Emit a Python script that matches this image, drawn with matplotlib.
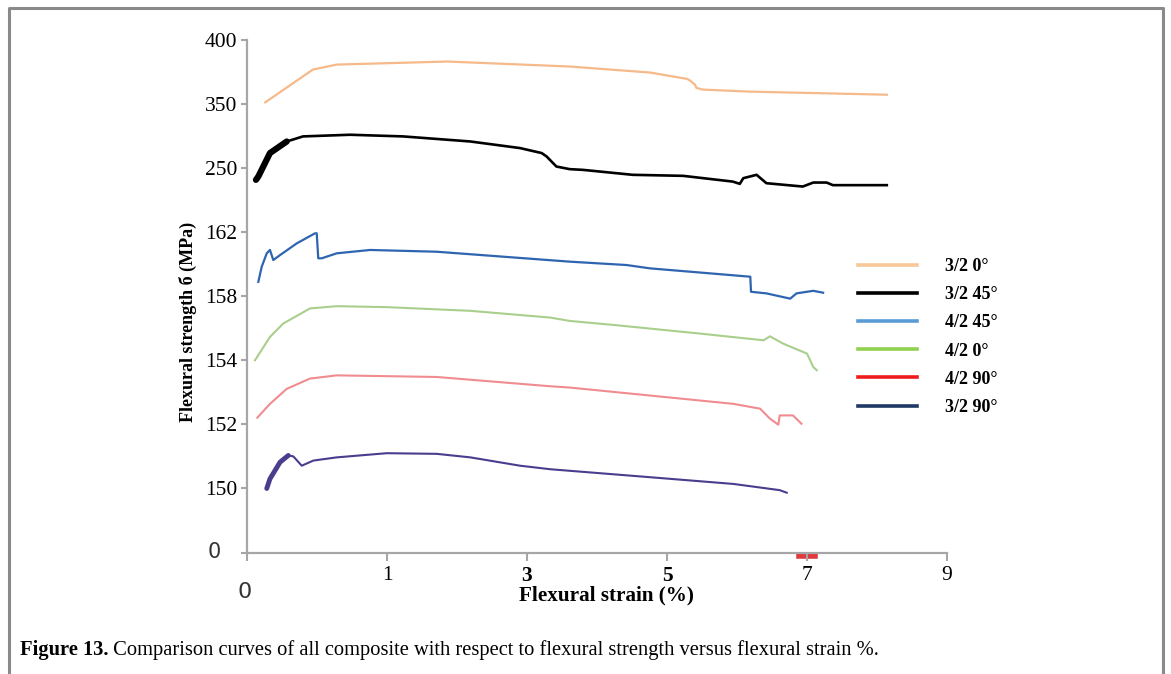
import numpy as np
import matplotlib
matplotlib.use('Agg')
import matplotlib.pyplot as plt
from matplotlib.lines import Line2D
from matplotlib.transforms import offset_copy

# axis tick values (the original axes are not linear, ticks are evenly spaced)
x_ticks = [0, 1, 3, 5, 7, 9]
y_ticks = [0, 150, 152, 154, 158, 162, 250, 350, 400]

# curves: strain (%) / flexural strength (MPa)
s32_0 = [0.13, 0.28, 0.47, 0.64, 1.86, 3.61, 4.76, 5.29, 5.33, 5.40, 5.42, 5.51, 6.19, 8.14]
v32_0 = [351.3, 362.6, 376.9, 380.8, 383.2, 379.3, 374.6, 369.6, 368.3, 365.2, 362.6, 361.3, 359.7, 357.3]

s32_45 = [0.064, 0.081, 0.164, 0.284, 0.40, 0.736, 1.23, 2.19, 2.90, 3.21, 3.28, 3.42, 3.61, 3.80,
          4.51, 5.23, 5.94, 6.04, 6.09, 6.28, 6.42, 6.94, 7.09, 7.28, 7.37, 8.14]
v32_45 = [233.9, 238.5, 273.5, 291.6, 299.5, 302.1, 299.5, 291.6, 281.3, 273.5, 268.2, 252.5, 248.6, 247.6,
          240.8, 239.4, 231.5, 228.4, 236.2, 240.8, 229.3, 224.7, 230.2, 230.2, 226.6, 226.6]

s42_45 = [0.081, 0.105, 0.141, 0.164, 0.188, 0.236, 0.355, 0.486, 0.498, 0.509, 0.534, 0.641, 0.879,
          1.71, 2.66, 3.61, 4.42, 4.76, 6.19, 6.20, 6.42, 6.76, 6.85, 7.09, 7.23]
v42_45 = [158.9, 159.84, 160.68, 160.89, 160.26, 160.57, 161.30, 161.93, 161.93, 160.37, 160.37, 160.68, 160.89,
          160.78, 160.47, 160.16, 159.95, 159.74, 159.22, 158.28, 158.18, 157.85, 158.18, 158.34, 158.22]

s42_0 = [0.057, 0.164, 0.259, 0.343, 0.45, 0.641, 0.998, 2.19, 3.33, 3.61, 4.28, 5.47, 6.38, 6.47,
         6.66, 7.00, 7.09, 7.14]
v42_0 = [154.0, 155.46, 156.3, 156.71, 157.24, 157.38, 157.32, 157.09, 156.67, 156.46, 156.19, 155.67, 155.25, 155.50,
         155.04, 154.42, 153.79, 153.69]

s42_90 = [0.074, 0.164, 0.284, 0.45, 0.641, 1.71, 3.33, 3.61, 4.76, 5.95, 6.33, 6.47, 6.59, 6.61, 6.80, 6.92]
v42_90 = [152.21, 152.64, 153.11, 153.43, 153.53, 153.48, 153.19, 153.15, 152.90, 152.64, 152.49, 152.18, 151.99,
          152.28, 152.28, 152.02]

s32_90 = [0.141, 0.164, 0.236, 0.295, 0.331, 0.391, 0.474, 0.641, 0.998, 1.71, 2.19, 2.90, 3.33, 4.76,
          5.95, 6.61, 6.71]
v32_90 = [149.9, 150.30, 150.82, 151.03, 151.0, 150.71, 150.87, 150.97, 151.10, 151.08, 150.97, 150.71, 150.6,
          150.35, 150.14, 146.0, 140.0]

labels = ['3/2 0°', '3/2 45°', '4/2 45°', '4/2 0°', '4/2 90°', '3/2 90°']
curve_colors = ['#f5b98a', '#000000', '#2f65b0', '#a9cf8c', '#f08c8f', '#4b3c8e']
legend_colors = ['#f8c898', '#000000', '#5b9bd5', '#92d050', '#ee1c1c', '#1f3864']


def x_fwd(v):
    return np.interp(v, x_ticks, np.arange(len(x_ticks)))


def x_inv(p):
    return np.interp(p, np.arange(len(x_ticks)), x_ticks)


def y_fwd(v):
    return np.interp(v, y_ticks, np.arange(len(y_ticks)))


def y_inv(p):
    return np.interp(p, np.arange(len(y_ticks)), y_ticks)


W, H = 1171, 674
fig = plt.figure(figsize=(W / 100, H / 100), dpi=100)
ax = fig.add_axes([247 / W, (H - 552.5) / H, 700 / W, 512.5 / H])
ax.set_xscale('function', functions=(x_fwd, x_inv))
ax.set_yscale('function', functions=(y_fwd, y_inv))

serif = 'Liberation Serif'
curves = [(s32_0, v32_0), (s32_45, v32_45), (s42_45, v42_45),
          (s42_0, v42_0), (s42_90, v42_90), (s32_90, v32_90)]
widths = [1.6, 1.9, 1.6, 1.5, 1.5, 1.5]
for (s, v), c, w in zip(curves, curve_colors, widths):
    ax.plot(s, v, color=c, lw=w, solid_joinstyle='round')
# thick starts of the black and purple curves
ax.plot(s32_45[:4], v32_45[:4], color=curve_colors[1], lw=4.5, solid_capstyle='round')
ax.plot(s32_90[:4], v32_90[:4], color=curve_colors[5], lw=3.5, solid_capstyle='round')
# small red mark under the axis near 7
ax.plot([6.88, 7.12], [0, 0], color='#e0393e', lw=4, clip_on=False, zorder=1,
        transform=offset_copy(ax.transData, fig=fig, y=-3, units='dots'))

ax.set_xlim(0, 9)
ax.set_ylim(0, 400)
ax.set_xticks(x_ticks)
ax.set_yticks(y_ticks)
ax.set_xticklabels([''] + [str(t) for t in x_ticks[1:]], fontfamily=serif, fontsize=15.5)
ax.set_yticklabels([''] + [str(t) for t in y_ticks[1:]], fontfamily=serif, fontsize=15.5)
for lab in ax.get_xticklabels():
    if lab.get_text() in ('3', '5'):
        lab.set_fontweight('bold')
ax.minorticks_off()

for side in ('top', 'right'):
    ax.spines[side].set_visible(False)
for side in ('left', 'bottom'):
    ax.spines[side].set_color('#a6a6a6')
    ax.spines[side].set_linewidth(1.6)
ax.tick_params(axis='both', direction='out', color='#a6a6a6', width=1.5, labelcolor='black')
ax.tick_params(axis='y', length=4, pad=3)
ax.tick_params(axis='x', length=6, pad=4)

# the two zero labels are in another font
ax.text(-0.047, 0, '0', transform=ax.transAxes, fontsize=15, fontfamily='DejaVu Sans',
        color='#333333', ha='center', va='center')
ax.text(-0.003, -0.077, '0', transform=ax.transAxes, fontsize=16, fontfamily='DejaVu Sans',
        color='#333333', ha='center', va='center')

ax.set_xlabel('Flexural strain (%)', fontfamily=serif, fontweight='bold', fontsize=15.2)
ax.xaxis.set_label_coords(0.514, -0.064)
ax.set_ylabel('Flexural strength б (MPa)', fontfamily=serif, fontweight='bold', fontsize=13)
ax.yaxis.set_label_coords(-0.071, 0.45)

handles = [Line2D([], [], color=c, lw=2.6) for c in legend_colors]
ax.legend(handles, labels, loc='upper left', bbox_to_anchor=(858 / W, (H - 258) / H),
          bbox_transform=fig.transFigure, frameon=False, borderpad=0, borderaxespad=0,
          handlelength=3.28, handletextpad=1.55, labelspacing=0.62,
          prop={'family': serif, 'weight': 'bold', 'size': 13})

# outer frame
fig.add_artist(Line2D([9 / W, 9 / W, 1163 / W, 1163 / W], [0, (H - 8) / H, (H - 8) / H, 0],
                      color='#8a8a8a', lw=2.2))

# caption
cap = fig.text(20 / W, (H - 648) / H, 'Figure 13.', fontfamily=serif, fontweight='bold',
               fontsize=14.8, va='center_baseline')
ax.annotate(' Comparison curves of all composite with respect to flexural strength versus flexural strain %.',
            xy=(1, 0), xycoords=cap, va='bottom', fontfamily=serif, fontsize=14.8,
            annotation_clip=False)

fig.savefig('out.png', dpi=100)
